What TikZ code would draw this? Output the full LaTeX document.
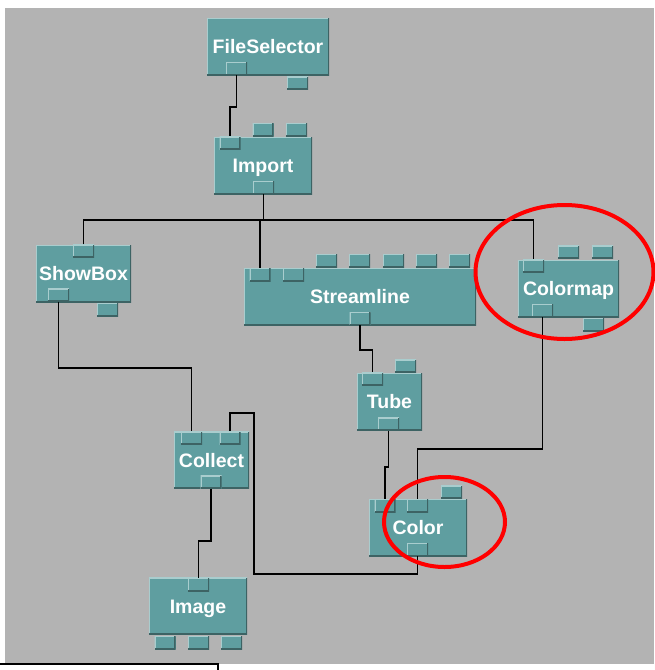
\documentclass[tikz,border=0pt]{standalone}
\usepackage{fontspec}
\setmainfont{Liberation Sans}
\definecolor{netbg}{HTML}{B3B3B3}
\definecolor{modfill}{HTML}{5F9EA0}
\definecolor{modhi}{HTML}{A9CDCE}
\definecolor{modlo}{HTML}{3D6364}

\begin{document}
\begin{tikzpicture}[x=1pt, y=-1pt,
		bevel/.style={path picture={
			\draw[modhi, line width=2.4pt] (path picture bounding box.south west) -- (path picture bounding box.north west) -- (path picture bounding box.north east);
			\draw[modlo, line width=2.4pt] (path picture bounding box.north east) -- (path picture bounding box.south east) -- (path picture bounding box.south west);}},
		module/.style={bevel, fill=modfill, inner sep=0pt, minimum height=57pt, text=white, font=\fontsize{19.5}{20}\selectfont\bfseries, text height=14pt, text depth=0pt},
		port/.style={bevel, fill=modfill, inner sep=0pt, minimum width=21pt, minimum height=13pt},
		wire/.style={line width=1.6pt, black},
		ring/.style={red, line width=4pt}]
	\useasboundingbox (0,0) rectangle (654,670);
	\fill[netbg] (5,8) rectangle (654,664);
	\draw[line width=2pt, fill=white] (-5,664) rectangle (218,680);
	
	% Module
	\node[module, minimum width=122pt] (fsel) at (268,46.5) {FileSelector};
	\node[module, minimum width=98pt] (import) at (263,165.5) {Import};
	\node[module, minimum width=95pt] (showbox) at (83.5,273.5) {ShowBox};
	\node[module, minimum width=232pt] (stream) at (360,296.5) {Streamline};
	\node[module, minimum width=101pt] (cmap) at (568.5,288.5) {Colormap};
	\node[module, minimum width=65pt] (tube) at (389.5,401.5) {Tube};
	\node[module, minimum width=75pt] (collect) at (211.5,460) {Collect};
	\node[module, minimum width=98pt] (color) at (418,527.5) {Color};
	\node[module, minimum width=98pt] (image) at (198,606) {Image};
	
	% Ports
	\node[port] (fsel-out) at (236.5,68.5) {};
	\node[port] (fsel-x) at (297.5,83) {};
	\node[port] (import-in) at (230,143) {};
	\node[port] (import-p1) at (263,129.5) {};
	\node[port] (import-p2) at (296.5,129.5) {};
	\node[port] (import-out) at (263.5,187.5) {};
	\node[port] (showbox-in) at (83.5,251) {};
	\node[port] (showbox-out) at (58.5,295) {};
	\node[port] (showbox-x) at (107.5,309.5) {};
	\node[port] (stream-in) at (260,274.5) {};
	\node[port] (stream-in2) at (293.5,274.5) {};
	\node[port] (stream-p1) at (326.5,260.5) {};
	\node[port] (stream-p2) at (359.5,260.5) {};
	\node[port] (stream-p3) at (393.5,260.5) {};
	\node[port] (stream-p4) at (426.5,260.5) {};
	\node[port] (stream-p5) at (459.5,260.5) {};
	\node[port] (stream-out) at (360,318.5) {};
	\node[port] (cmap-in) at (533.5,266) {};
	\node[port] (cmap-p1) at (568.5,252) {};
	\node[port] (cmap-p2) at (602.5,252) {};
	\node[port] (cmap-out) at (542.5,310.5) {};
	\node[port] (cmap-x) at (593.5,324.5) {};
	\node[port] (tube-in) at (372.5,379) {};
	\node[port] (tube-p1) at (405.5,366) {};
	\node[port] (tube-out) at (388.5,424) {};
	\node[port] (collect-in1) at (191.5,438) {};
	\node[port] (collect-in2) at (230,438) {};
	\node[port] (collect-out) at (211,482) {};
	\node[port] (color-in1) at (385,505.5) {};
	\node[port] (color-in2) at (417.5,505.5) {};
	\node[port] (color-p1) at (451.5,492) {};
	\node[port] (color-out) at (417.5,549.5) {};
	\node[port] (image-in) at (198.5,584.5) {};
	\node[port] (image-x1) at (165,642.5) {};
	\node[port] (image-x2) at (198.5,642.5) {};
	\node[port] (image-x3) at (231.5,642.5) {};
	
	% Verbindungen
	\draw[wire] (fsel-out.south) -- ++(0,32) -| (import-in.north);
	\draw[wire] (import-out.south) -- ++(0,26) coordinate (bus);
	\draw[wire] (showbox-in.north) |- (bus) -| (cmap-in.north);
	\draw[wire] (stream-in.north) |- (bus);
	\draw[wire] (showbox-out.south) -- ++(0,66) -| (collect-in1.north);
	\draw[wire] (stream-out.south) -- ++(0,25) -| (tube-in.north);
	\draw[wire] (tube-out.south) -- ++(0,36) -| (color-in1.north);
	\draw[wire] (cmap-out.south) -- ++(0,132) -| (color-in2.north);
	\draw[wire] (color-out.south) -- ++(0,18) -| ++(-163.5,-161) -| (collect-in2.north);
	\draw[wire] (collect-out.south) -- ++(0,52) -| (image-in.north);
	
	% Markierungen
	\draw[ring] (564.5,272) ellipse [x radius=89pt, y radius=67pt];
	\draw[ring] (444.5,522) ellipse [x radius=60.5pt, y radius=45pt];
\end{tikzpicture}
\end{document}
